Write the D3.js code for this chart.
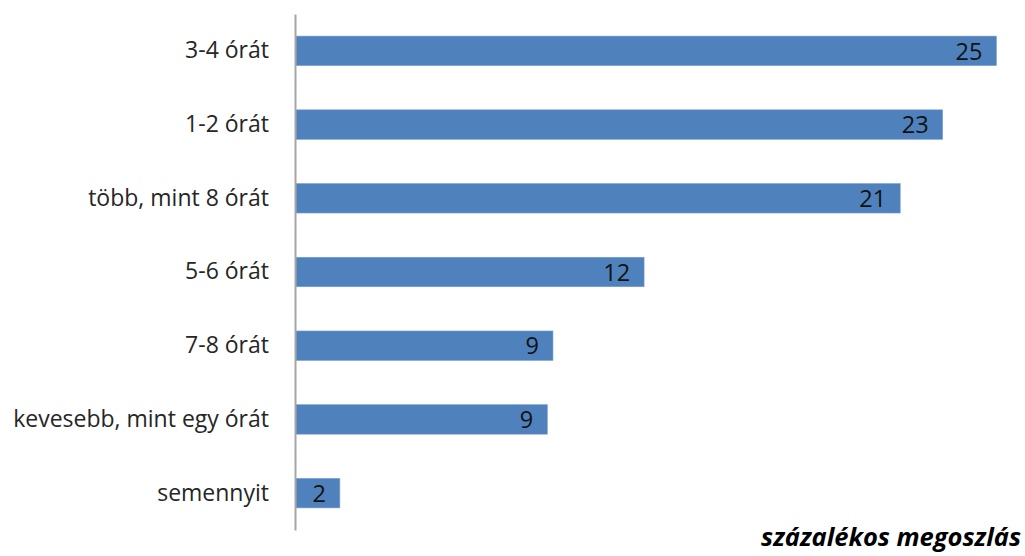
<!DOCTYPE html>
<html><head><meta charset="utf-8">
<script src="https://cdn.jsdelivr.net/npm/d3@7"></script>
<style>body{margin:0;background:#fff}</style>
</head><body>
<script>
const categories = ["3-4 órát","1-2 órát","több, mint 8 órát","5-6 órát","7-8 órát","kevesebb, mint egy órát","semennyit"];
const values = [24.75, 22.85, 21.35, 12.3, 9.08, 8.88, 1.55];
const axisTitle = "százalékos megoszlás";

const W = 1025, H = 556;
const svg = d3.select("body").append("svg").attr("width", W).attr("height", H);
const font = "'Open Sans', 'Noto Sans', sans-serif";

const y = d3.scaleBand().domain(categories).range([14, 530]).paddingInner(0.6).paddingOuter(0.3);
const x = d3.scaleLinear().domain([0, 25]).range([296, 1003.5]);

const data = categories.map((c, i) => ({c, v: values[i]}));

svg.selectAll("rect.bar").data(data).join("rect")
  .attr("class", "bar")
  .attr("x", x(0)).attr("y", d => y(d.c))
  .attr("width", d => x(d.v) - x(0)).attr("height", y.bandwidth())
  .attr("fill", "#4F81BD").attr("stroke", "#7A9FD0").attr("stroke-width", 0.6);

const yAxis = d3.axisLeft(y).tickSize(0).tickPadding(26);
const ga = svg.append("g").attr("transform", `translate(${x(0) - 1},0)`).call(yAxis);
ga.select(".domain").attr("stroke", "#A6A6A6").attr("stroke-width", 2);
ga.selectAll("text").attr("font-family", font).attr("font-size", 23).attr("fill", "#262626");

svg.selectAll("text.val").data(data).join("text")
  .attr("class", "val")
  .attr("x", d => x(d.v) - 14).attr("y", d => y(d.c) + y.bandwidth() / 2)
  .attr("dy", "0.37em").attr("text-anchor", "end")
  .attr("font-family", font).attr("font-size", 23.5).attr("fill", "#111")
  .text(d => d3.format(".0f")(d.v));

svg.append("text").attr("x", 1021).attr("y", 546).attr("text-anchor", "end")
  .attr("font-family", font).attr("font-size", 25.5).attr("font-weight", "bold").attr("font-style", "italic")
  .attr("fill", "#000").text(axisTitle);
</script>
</body></html>
